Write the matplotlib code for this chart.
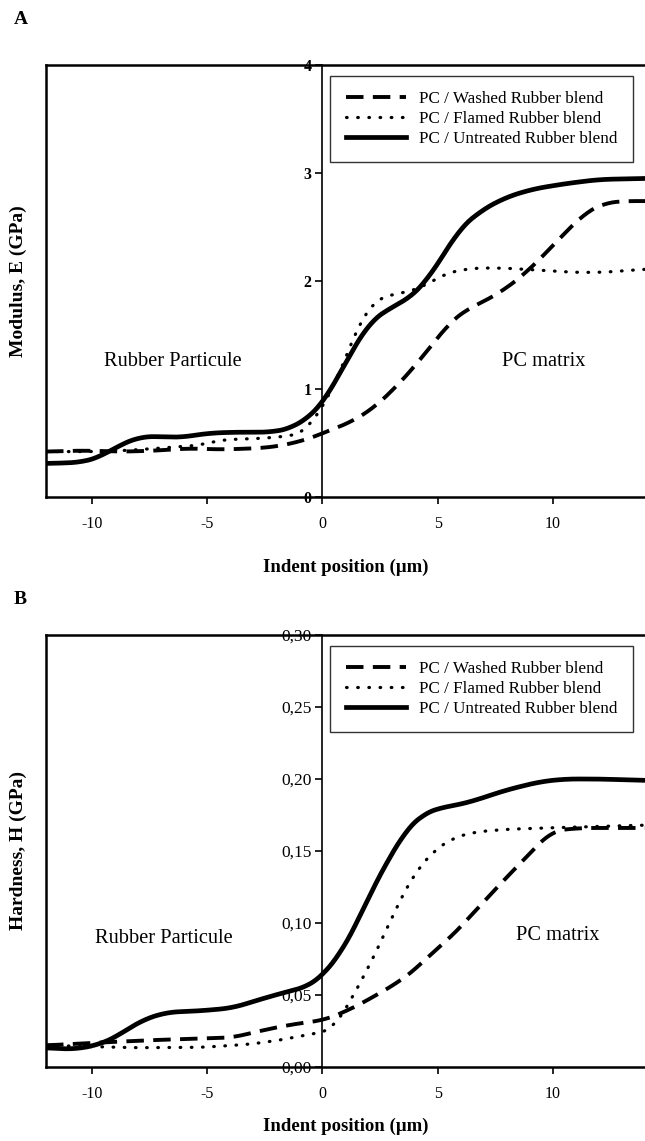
import matplotlib
matplotlib.use("Agg")
import matplotlib.pyplot as plt
import numpy as np
from matplotlib.ticker import FuncFormatter

plt.rcParams["font.family"] = ["Liberation Serif", "DejaVu Serif"]
plt.rcParams["axes.unicode_minus"] = False

# Panel A: modulus E (GPa) vs indent position (um)
e_washed_x = [-12, -10.5, -8.6, -7.2, -5.8, -4.4, -2.9, -1.9, -0.7, 0, 1.2, 2.2, 3.2, 4.0,
              4.8, 5.5, 6.2, 7.1, 7.9, 8.8, 9.7, 10.5, 11.4, 12.2, 13, 14]
e_washed_y = [0.42, 0.43, 0.42, 0.43, 0.45, 0.44, 0.45, 0.47, 0.53, 0.59, 0.69, 0.82, 1.02, 1.21,
              1.42, 1.61, 1.73, 1.82, 1.92, 2.07, 2.26, 2.44, 2.63, 2.72, 2.74, 2.74]
e_flamed_x = [-12, -10, -8.6, -7.2, -5.3, -4.4, -2.9, -1.6, -0.7, 0, 0.5, 1.0, 1.6, 2.2, 2.8,
              3.6, 4.5, 5.3, 6.5, 7.9, 9.4, 10.8, 12.2, 14]
e_flamed_y = [0.42, 0.42, 0.43, 0.45, 0.48, 0.53, 0.54, 0.56, 0.60, 0.85, 1.0, 1.3, 1.61, 1.81, 1.87,
              1.89, 1.96, 2.07, 2.12, 2.12, 2.10, 2.08, 2.08, 2.11]
e_untreated_x = [-12, -10.5, -9.65, -8.9, -7.9, -7.2, -6.2, -5.0, -3.9, -2.2, -1.3, -0.6, 0, 1.0,
                 2.0, 3.0, 3.8, 4.5, 5.2, 5.9, 6.8, 7.9, 9.1, 10.5, 12, 14]
e_untreated_y = [0.31, 0.32, 0.37, 0.47, 0.56, 0.56, 0.55, 0.59, 0.60, 0.60, 0.64, 0.74, 0.86, 1.24,
                 1.61, 1.76, 1.84, 2.0, 2.22, 2.47, 2.64, 2.77, 2.85, 2.90, 2.94, 2.95]

# Panel B: hardness H (GPa)
h_washed_x = [-12, -9.65, -7.5, -5.3, -3.9, -3.0, -1.7, -0.3, 0, 1.2, 2.2, 3.3, 4.05, 4.8, 5.5,
              6.5, 7.65, 8.8, 9.95, 11.2, 14]
h_washed_y = [0.015, 0.017, 0.0186, 0.0198, 0.0204, 0.024, 0.0285, 0.032, 0.032, 0.040, 0.0486,
              0.059, 0.068, 0.080, 0.089, 0.106, 0.126, 0.145, 0.164, 0.166, 0.166]
h_flamed_x = [-12, -8.3, -5.3, -3.2, -1.7, -1.0, 0, 0.46, 1.18, 1.9, 2.6, 3.33, 4.05, 4.77, 5.5,
              6.5, 7.9, 9.65, 12, 14]
h_flamed_y = [0.015, 0.0134, 0.0136, 0.0157, 0.019, 0.0215, 0.024, 0.026, 0.045, 0.066, 0.089,
              0.115, 0.136, 0.149, 0.158, 0.163, 0.165, 0.166, 0.167, 0.168]
h_untreated_x = [-12, -10.8, -9.65, -8.9, -7.9, -6.8, -5.3, -3.9, -2.7, -1.6, -0.6, 0, 0.75, 1.47,
                 2.18, 2.9, 3.6, 4.3, 5.06, 5.9, 6.8, 7.9, 9.4, 10.5, 12, 14]
h_untreated_y = [0.0134, 0.0122, 0.0157, 0.0215, 0.032, 0.038, 0.039, 0.041, 0.047, 0.052, 0.056,
                 0.0635, 0.078, 0.099, 0.124, 0.145, 0.164, 0.175, 0.18, 0.182, 0.186, 0.192,
                 0.198, 0.2, 0.2, 0.199]

labels = ["PC / Washed Rubber blend", "PC / Flamed Rubber blend", "PC / Untreated Rubber blend"]
x_ticks = [-10, -5, 0, 5, 10]


def smooth(x, y, width=0.6):
    # resample on a fine grid and run a short moving average so the traces look like the scan
    xs = np.linspace(x[0], x[-1], 800)
    ys = np.interp(xs, x, y)
    n = max(1, int(width / (xs[1] - xs[0])))
    pad = np.concatenate([np.full(n, ys[0]), ys, np.full(n, ys[-1])])
    kernel = np.ones(2 * n + 1) / (2 * n + 1)
    return xs, np.convolve(pad, kernel, mode="valid")


def draw_panel(ax, series, yticks, ylabel, fmt, texts, ytick_size, xlabelpad):
    (wx, wy), (fx, fy), (ux, uy) = series
    ax.plot(*smooth(wx, wy), color="black", lw=2.8, dashes=(4.5, 2.4), label=labels[0])
    ax.plot(*smooth(fx, fy), color="black", lw=2.3, dashes=(0.2, 3.3), dash_capstyle="round",
            label=labels[1])
    ax.plot(*smooth(ux, uy), color="black", lw=3.4, label=labels[2])

    ax.set_xlim(-12, 14)
    ax.set_ylim(yticks[0], yticks[-1])
    ax.set_xticks(x_ticks)
    ax.set_yticks(yticks)
    ax.yaxis.set_major_formatter(FuncFormatter(fmt))

    # y axis sits at x = 0, box frame kept on the left and top
    ax.spines["left"].set_position(("data", 0))
    ax.spines["left"].set_linewidth(1.2)
    ax.spines["right"].set_visible(False)
    ax.spines["top"].set_linewidth(1.8)
    ax.spines["bottom"].set_linewidth(1.8)
    ax.axvline(-12, color="black", lw=1.8, clip_on=False)
    ax.tick_params(axis="both", direction="out", length=5, width=1.2)
    ax.tick_params(axis="x", pad=9, labelsize=11.5)
    ax.tick_params(axis="y", pad=3, labelsize=ytick_size)

    ax.set_xlabel("Indent position (\u00b5m)", fontsize=13.5, fontweight="bold", labelpad=xlabelpad)
    ax.set_ylabel(ylabel, fontsize=14, fontweight="bold")
    ax.yaxis.set_label_coords(-0.032, 0.5)

    (rx, ry), (px, py) = texts
    ax.text(rx, ry, "Rubber Particule", fontsize=14.7, ha="center", va="center")
    ax.text(px, py, "PC matrix", fontsize=14.7, ha="center", va="center")

    leg = ax.legend(loc="upper right", bbox_to_anchor=(0.98, 0.975), borderaxespad=0,
                    fontsize=12.3, frameon=True, fancybox=False, handlelength=3.5,
                    borderpad=0.9, labelspacing=0.22, handletextpad=0.8)
    leg.get_frame().set_edgecolor("black")
    leg.get_frame().set_linewidth(1.0)


fig = plt.figure(figsize=(6.45, 11.41), dpi=100)
ax_a = fig.add_axes([46 / 645, 1 - 497 / 1141, 599 / 645, 432 / 1141])
ax_b = fig.add_axes([46 / 645, 1 - 1067 / 1141, 599 / 645, 432 / 1141])

draw_panel(ax_a, [(e_washed_x, e_washed_y), (e_flamed_x, e_flamed_y), (e_untreated_x, e_untreated_y)],
           [0, 1, 2, 3, 4], "Modulus, E (GPa)", lambda v, p: f"{v:g}",
           [(-6.5, 1.25), (9.6, 1.25)], 11.5, 19)
draw_panel(ax_b, [(h_washed_x, h_washed_y), (h_flamed_x, h_flamed_y), (h_untreated_x, h_untreated_y)],
           [0, 0.05, 0.10, 0.15, 0.20, 0.25, 0.30], "Hardness, H (GPa)",
           lambda v, p: f"{v:.2f}".replace(".", ","), [(-6.9, 0.089), (10.2, 0.091)], 12.5, 11)

for lab in ax_a.get_yticklabels():
    lab.set_fontweight("bold")

fig.text(14 / 645, 1 - 20 / 1141, "A", fontsize=14, fontweight="bold", ha="left", va="center")
fig.text(14 / 645, 1 - 600 / 1141, "B", fontsize=14, fontweight="bold", ha="left", va="center")

fig.savefig("out.png", dpi=100)
